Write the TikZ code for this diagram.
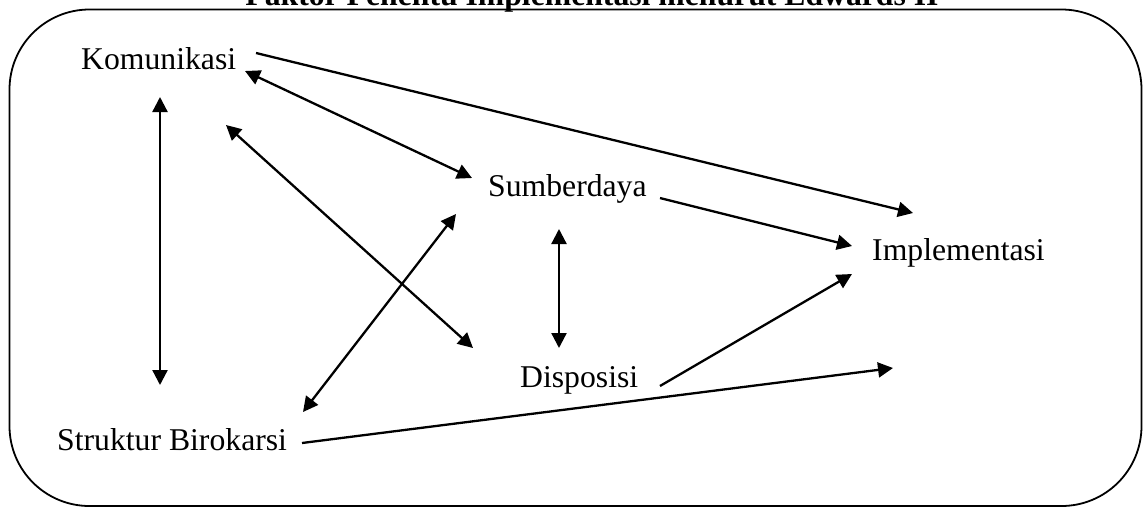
\documentclass[tikz,border=0pt]{standalone}
\usepackage{fontspec}
\setmainfont{Liberation Serif}
\usetikzlibrary{arrows.meta,calc}
\begin{document}
\begin{tikzpicture}[x=1pt,y=-1pt,
  lbl/.style={inner sep=0pt,anchor=base west,font=\fontsize{31.7}{38}\selectfont},
  ttl/.style={inner sep=0pt,anchor=base,font=\fontsize{31.7}{38}\selectfont\bfseries},
  frame/.style={draw=black,line width=1.8pt,rounded corners=80pt},
  conn/.style={line width=2.3pt,-{Triangle[length=15pt,width=15pt]}},
  biconn/.style={line width=2.3pt,{Triangle[length=15pt,width=15pt]}-{Triangle[length=15pt,width=15pt]}}]
\useasboundingbox (0,0) rectangle (1143,507);
\node[ttl] (title) at (592,5) {Faktor Penentu Implementasi menurut Edwards II};
\draw[frame] (9.5,9.5) rectangle (1141.5,506);
\node[lbl] (kom) at (81,69) {Komunikasi};
\node[lbl] (sum) at (488,196) {Sumberdaya};
\node[lbl] (disp) at (520,387) {Disposisi};
\node[lbl] (str) at (57,450) {Struktur Birokarsi};
\node[lbl] (impl) at (872,260) {Implementasi};
\coordinate (strtip) at (893,368);
% Komunikasi connections
\draw[conn] ($(kom.base west)+(175,-16)$) -- ($(impl.base west)+(41,-47)$);
\draw[biconn] ($(kom.base west)+(164,2)$) -- ($(sum.base west)+(-16,-18)$);
\draw[biconn] ($(kom.base west)+(145,56)$) -- ($(disp.base west)+(-47,-39)$);
\draw[biconn] ($(kom.base west)+(79,28)$) -- ($(str.base west)+(103,-65)$);
% Sumberdaya
\draw[conn] ($(sum.base west)+(172,2)$) -- ($(impl.base west)+(-20,-14)$);
\draw[biconn] ($(sum.base west)+(71,33)$) -- ($(disp.base west)+(39,-39)$);
\draw[biconn] ($(sum.base west)+(-32,18)$) -- ($(str.base west)+(246,-38)$);
% Disposisi
\draw[conn] ($(disp.base west)+(140,-1)$) -- ($(impl.base west)+(-20,14)$);
% Struktur
\draw[conn] ($(str.base west)+(245,-7)$) -- (strtip);
\end{tikzpicture}
\end{document}
